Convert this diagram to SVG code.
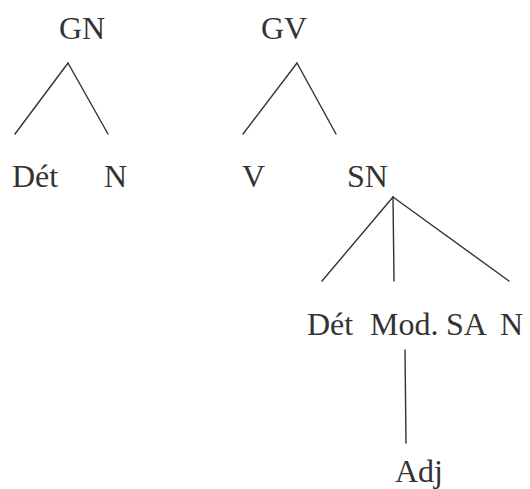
<svg xmlns="http://www.w3.org/2000/svg" width="530" height="489" viewBox="0 0 530 489">
<style>
text{font-family:"Liberation Serif","Times New Roman",serif;font-size:32px;fill:#333}
.c line{stroke:#333;stroke-width:1.4;stroke-linecap:round}
</style>
<rect width="530" height="489" fill="#fff"/>
<g class="c" id="connectors">
<line x1="68" y1="63" x2="15" y2="134"/>
<line x1="68" y1="63" x2="108" y2="134"/>
<line x1="297" y1="63" x2="243" y2="134"/>
<line x1="297" y1="63" x2="336" y2="134"/>
<line x1="393" y1="197" x2="322" y2="281"/>
<line x1="393" y1="197" x2="394" y2="281"/>
<line x1="393" y1="197" x2="509" y2="281"/>
<line x1="405" y1="350" x2="406" y2="443"/>
</g>
<g id="GN"><text x="59" y="39">GN</text></g>
<g id="GV"><text x="261" y="39">GV</text></g>
<g id="Det1"><text x="12" y="187">Dét</text></g>
<g id="N1"><text x="104" y="187">N</text></g>
<g id="V"><text x="242" y="187">V</text></g>
<g id="SN"><text x="347" y="187">SN</text></g>
<g id="Det2"><text x="307" y="335">Dét</text></g>
<g id="Mod"><text x="370" y="335">Mod.</text></g>
<g id="SA"><text x="446" y="335">SA</text></g>
<g id="N2"><text x="500" y="335">N</text></g>
<g id="Adj"><text x="395" y="482">Adj</text></g>
</svg>
